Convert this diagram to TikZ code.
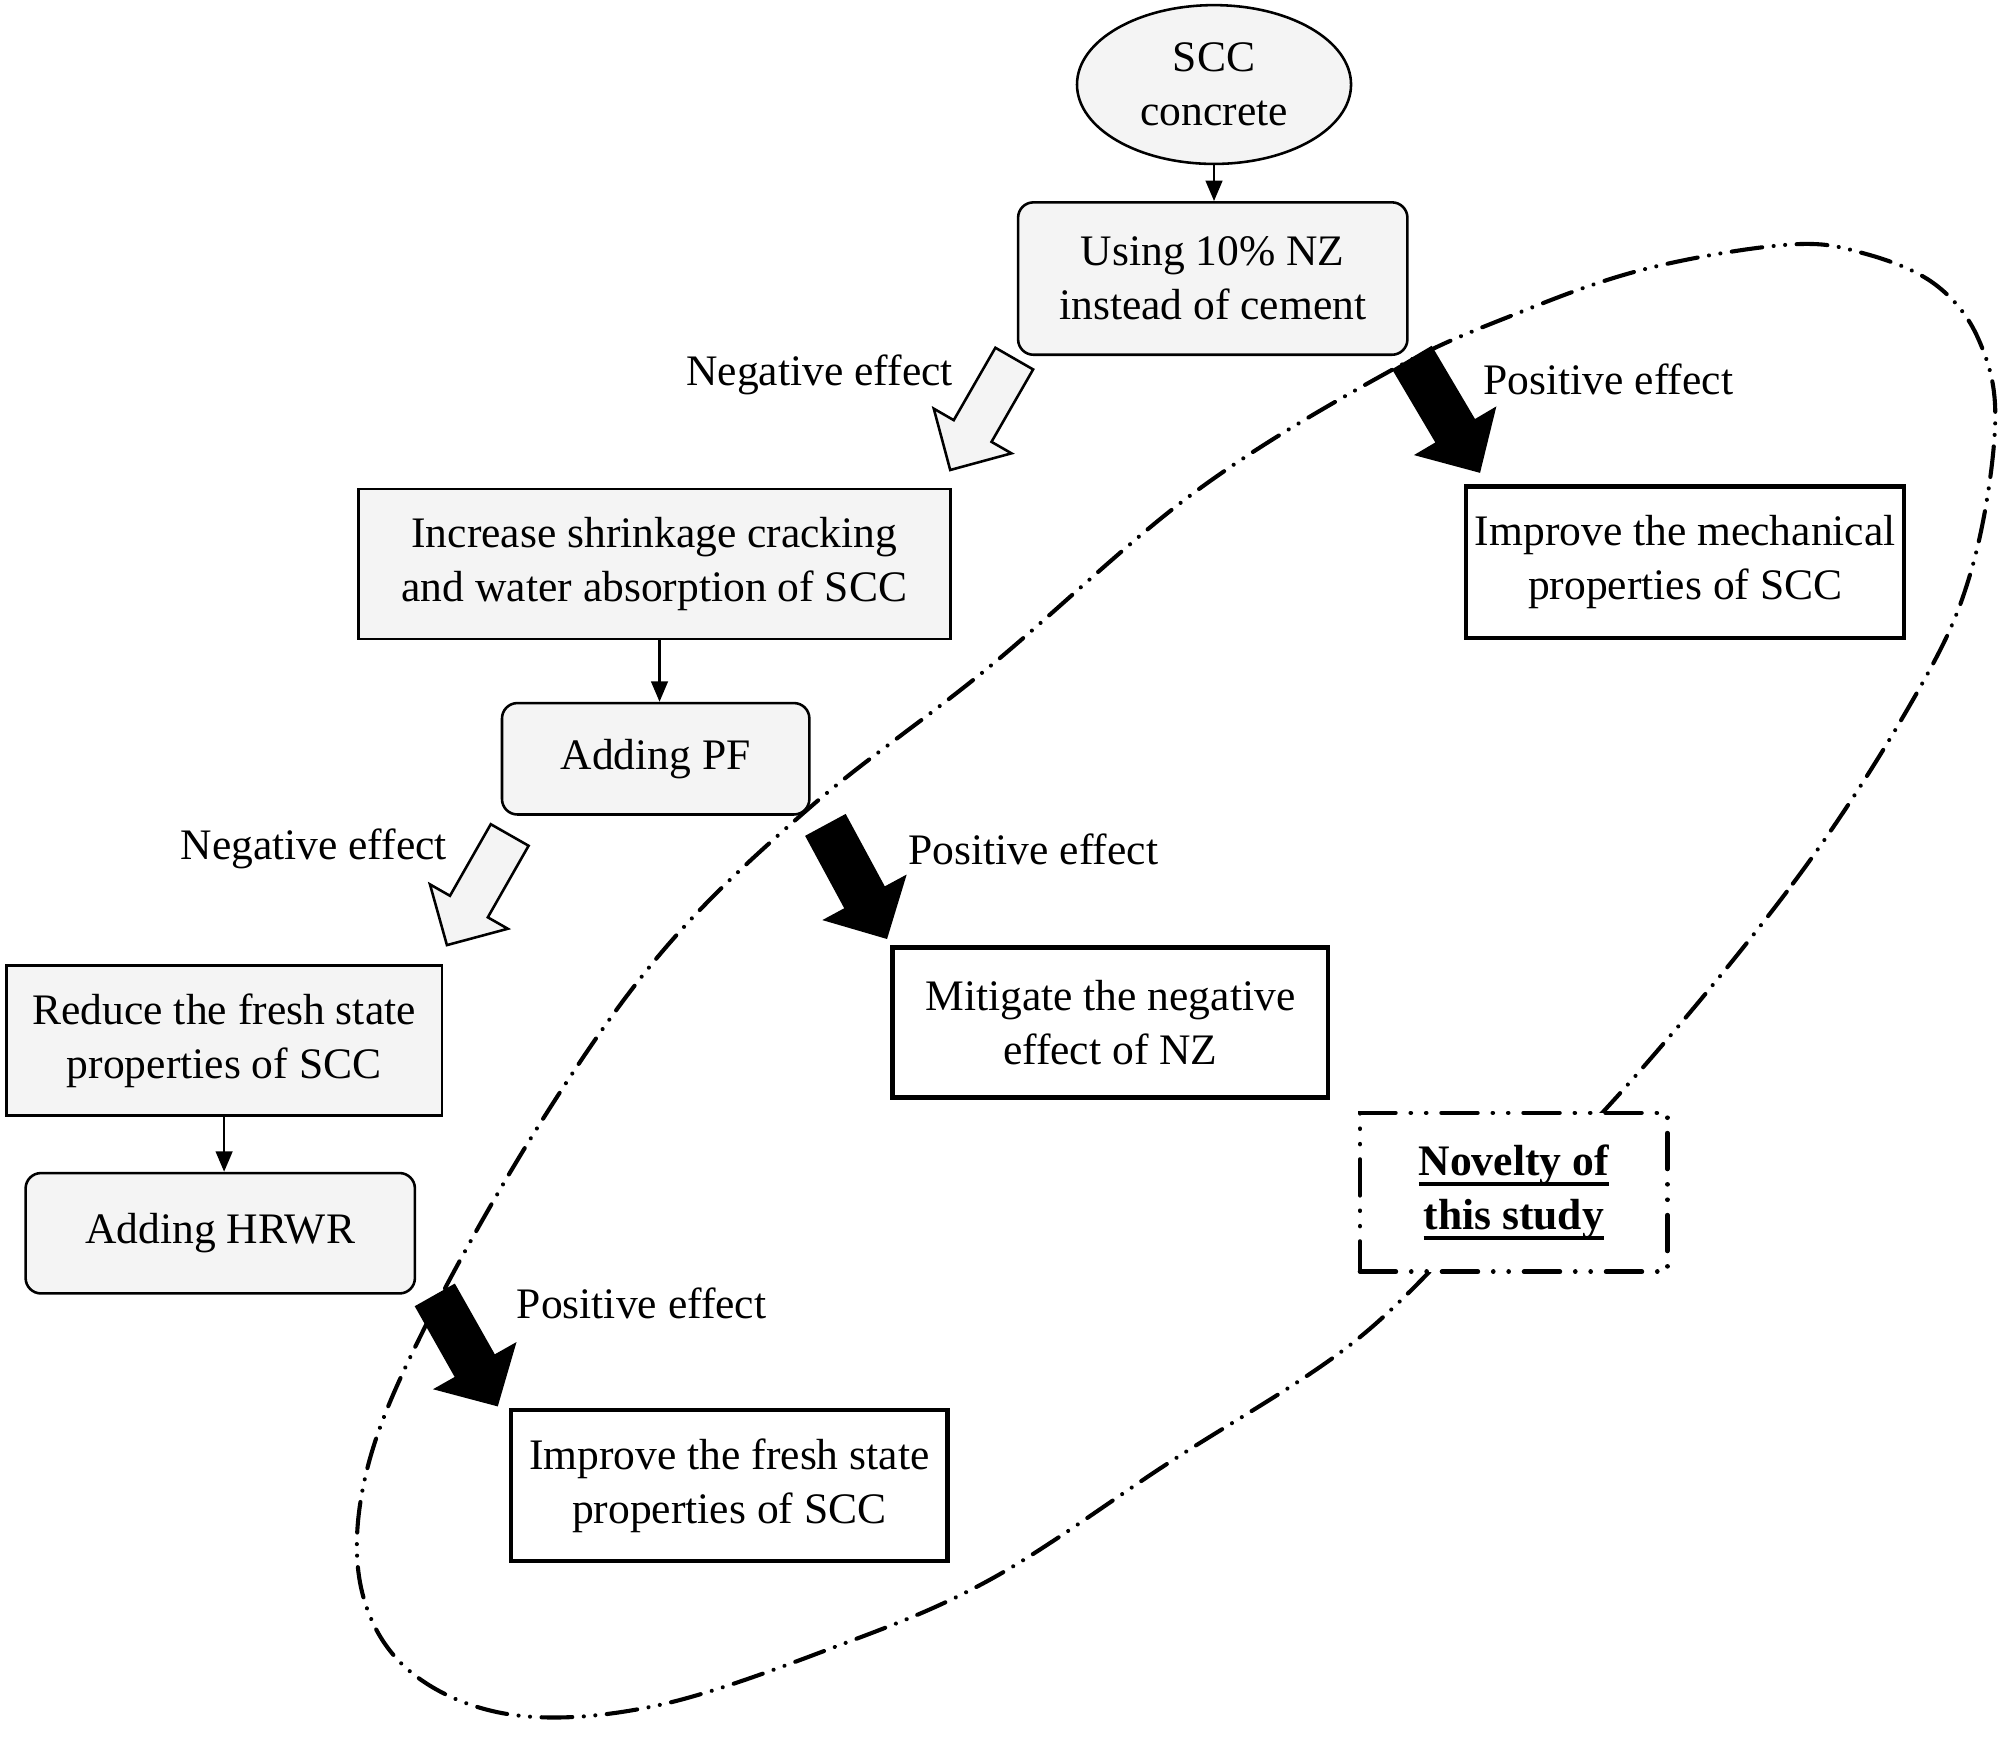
\documentclass[tikz,border=0pt]{standalone}
\usepackage{fontspec}
\setmainfont{Liberation Serif}
\usetikzlibrary{shapes.geometric,calc,arrows.meta}
\definecolor{boxgray}{RGB}{244,244,244}
\newcommand{\blkarrow}[3]{%
  \draw[#3] ($(#1)!8.5pt!90:(#2)$) -- ($(#1)!0.65!(#2)!8.5pt!90:(#2)$) -- ($(#1)!0.65!(#2)!17.5pt!90:(#2)$) -- (#2) -- ($(#1)!0.65!(#2)!17.5pt!-90:(#2)$) -- ($(#1)!0.65!(#2)!8.5pt!-90:(#2)$) -- ($(#1)!8.5pt!-90:(#2)$) -- cycle;}
\newcommand{\thickul}[1]{\setbox0=\hbox{#1}\leavevmode\rlap{\rule[-4pt]{\wd0}{1.5pt}}\box0}
\begin{document}
\begin{tikzpicture}[x=0.5pt,y=-0.5pt, font=\fontsize{17}{21}\selectfont,
  graybox/.style={draw, fill=boxgray, line width=1pt, align=center, inner sep=1pt},
  rbox/.style={graybox, rounded corners=6pt},
  whitebox/.style={draw, fill=white, line width=1.7pt, align=center, inner sep=1pt},
  lbl/.style={inner sep=0pt},
  link/.style={line width=1pt, -{Triangle[length=8pt,width=6.5pt]}},
  hollowarrow/.style={draw, fill=boxgray, line width=1pt, line join=miter},
  fullarrow/.style={draw, fill=black, line width=1pt, line join=miter},
  looptrace/.style={line width=1.6pt, line cap=round, dash pattern=on 12pt off 4.5pt on 0.01pt off 4.5pt on 0.01pt off 4.5pt},
  novbox/.style={draw, fill=white, line width=1.8pt, line cap=round, dash pattern=on 14pt off 6pt on 0.01pt off 6pt on 0.01pt off 6pt, align=center, inner sep=1pt}
]
\useasboundingbox (0,0) rectangle (1568,1356);

% dash-dot-dot loop
\draw[looptrace] plot[smooth cycle, tension=0.6] coordinates {
 (1252,868) (1400,690) (1498,539) (1540,443) (1558,330) (1545,265) (1511,222) (1456,198)
 (1397,191) (1285,210) (1184,245) (1083,291) (932,385) (771,522) (633,630)
 (518,742) (420,880) (330,1040) (286,1150) (282,1240) (320,1305) (400,1339)
 (512,1332) (652,1286) (774,1233) (913,1142) (1052,1052) (1150,960)};

% nodes
\node[ellipse, draw, fill=boxgray, line width=1pt, align=center, inner sep=1pt,
      minimum width=107pt, minimum height=62pt] (scc) at (948,66) {SCC\\concrete};
\node[rbox, minimum width=152pt, minimum height=59.5pt] (using) at (947,217.5) {Using 10\% NZ\\instead of cement};
\node[graybox, minimum width=231pt, minimum height=58.5pt] (incr) at (511,440.5) {Increase shrinkage cracking\\and water absorption of SCC};
\node[rbox, minimum width=120pt, minimum height=43.5pt] (pf) at (512,592.5) {Adding PF};
\node[graybox, minimum width=170pt, minimum height=58.5pt] (reduce) at (175,812.5) {Reduce the fresh state\\properties of SCC};
\node[rbox, minimum width=152pt, minimum height=47pt] (hrwr) at (172,963) {Adding HRWR};
\node[whitebox, minimum width=171pt, minimum height=59pt] (mech) at (1316,439) {Improve the mechanical\\properties of SCC};
\node[whitebox, minimum width=170pt, minimum height=58.5pt] (mitig) at (867,798.5) {Mitigate the negative\\effect of NZ};
\node[whitebox, minimum width=170.5pt, minimum height=59pt] (fresh) at (569.5,1160) {Improve the fresh state\\properties of SCC};
\node[novbox, minimum width=120pt, minimum height=62pt] (nov) at (1182,931) {\bfseries\thickul{Novelty of}\\\bfseries\thickul{this study}};

% thin connectors
\draw[link] (scc.south) -- (scc.south |- using.north);
\draw[link] ([xshift=2pt]incr.south) -- ([xshift=2pt]incr.south |- pf.north);
\draw[link] (reduce.south) -- (reduce.south |- hrwr.north);

% block arrows
\coordinate (n1t) at (792,280); \coordinate (n1h) at (742,367);
\coordinate (n2t) at (398,652); \coordinate (n2h) at (349,738);
\coordinate (p1t) at (1103,280); \coordinate (p1h) at (1155,368);
\coordinate (p2t) at (645,645); \coordinate (p2h) at (692,732);
\coordinate (p3t) at (340,1012); \coordinate (p3h) at (388,1097);
\blkarrow{n1t}{n1h}{hollowarrow}
\blkarrow{n2t}{n2h}{hollowarrow}
\blkarrow{p1t}{p1h}{fullarrow}
\blkarrow{p2t}{p2h}{fullarrow}
\blkarrow{p3t}{p3h}{fullarrow}

% labels
\node[lbl] (neg1) at (640,293) {Negative effect};
\node[lbl] (neg2) at (245,663) {Negative effect};
\node[lbl] (pos1) at (1256,296) {Positive effect};
\node[lbl] (pos2) at (807,663) {Positive effect};
\node[lbl] (pos3) at (501,1018) {Positive effect};
\end{tikzpicture}
\end{document}
